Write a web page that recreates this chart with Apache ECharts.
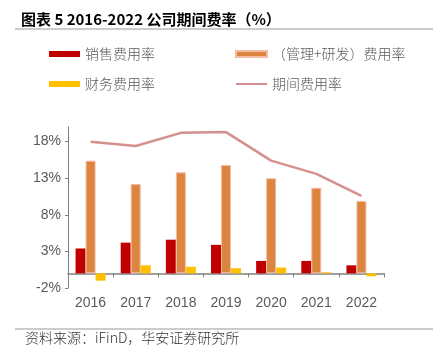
<!DOCTYPE html>
<html>
<head>
    <meta charset="utf-8">
    <title>2016-2022 公司期间费率</title>
    <script src="https://cdn.jsdelivr.net/npm/echarts@6/dist/echarts.min.js"></script>
    <style>
        html, body { margin: 0; padding: 0; background: #fff; }
    </style>
</head>
<body>
    <div id="main" style="width: 433px;height:350px;"></div>
    <script type="text/javascript">
        var years = ['2016', '2017', '2018', '2019', '2020', '2021', '2022'];
        // 各项费用率（%）
        var sales = [3.4, 4.2, 4.6, 3.9, 1.7, 1.7, 1.1];
        var admin = [15.4, 12.2, 13.8, 14.8, 13.0, 11.7, 9.9];
        var finance = [-1.0, 1.1, 0.9, 0.7, 0.8, 0.15, -0.4];
        var total = [18.0, 17.4, 19.2, 19.3, 15.4, 13.6, 10.6];
        var yTicks = [-2, 3, 8, 13, 18];

        var myChart = echarts.init(document.getElementById('main'));
        var cjk = '"Noto Sans CJK SC", sans-serif';
        var latin = '"Liberation Sans", Arial, sans-serif';
        var legendText = { color: '#595959', fontSize: 14, fontWeight: 300, fontFamily: cjk };

        var option = {
            animation: false,
            title: {
                text: '图表 5 2016-2022 公司期间费率（%）',
                left: 16,
                top: 7,
                textStyle: { fontSize: 15, fontWeight: 'bold', color: '#000', fontFamily: cjk }
            },
            graphic: [
                { type: 'line', shape: { x1: 15, y1: 29, x2: 433, y2: 29 }, style: { stroke: '#999', lineWidth: 1 } },
                { type: 'line', shape: { x1: 15, y1: 329, x2: 433, y2: 329 }, style: { stroke: '#999', lineWidth: 1 } },
                { type: 'text', left: 25, top: 331, style: { text: '资料来源：iFinD，华安证券研究所', fill: '#333', font: '300 14px ' + cjk } }
            ],
            legend: [{
                data: [{ name: '销售费用率', icon: 'rect' }, { name: '财务费用率', icon: 'rect' }],
                orient: 'vertical',
                left: 44,
                top: 42,
                itemWidth: 31,
                itemHeight: 6,
                itemGap: 16,
                textStyle: legendText
            }, {
                data: [{ name: '（管理+研发）费用率', icon: 'rect' }, { name: '期间费用率', icon: 'path://M0,0H31V2H0Z' }],
                orient: 'vertical',
                left: 230,
                top: 42,
                itemWidth: 31,
                itemHeight: 6,
                itemGap: 16,
                textStyle: legendText
            }],
            grid: { left: 68, right: 49, top: 127, bottom: 62 },
            xAxis: {
                type: 'category',
                data: years,
                axisLine: { onZero: true, lineStyle: { color: '#808080', width: 1.5 } },
                axisTick: { show: true, length: 4, lineStyle: { color: '#808080' } },
                axisLabel: { color: '#595959', fontSize: 14, fontFamily: latin, margin: 8 }
            },
            yAxis: {
                type: 'value',
                min: -2,
                max: 20,
                interval: 5,
                splitLine: { show: false },
                axisLine: { show: true, lineStyle: { color: '#808080' } },
                axisTick: { show: true, length: 3, lineStyle: { color: '#808080' } },
                axisLabel: {
                    color: '#595959', fontSize: 14, fontFamily: latin, margin: 7,
                    showMaxLabel: false,
                    formatter: function (v) { return yTicks.indexOf(v) >= 0 ? v + '%' : ''; }
                }
            },
            series: [{
                name: '销售费用率',
                type: 'bar',
                data: sales,
                barWidth: 10,
                barGap: '0%',
                itemStyle: { color: '#C00000' }
            }, {
                name: '（管理+研发）费用率',
                type: 'bar',
                data: admin,
                barWidth: 10,
                barGap: '0%',
                itemStyle: { color: '#DC853E', borderColor: '#F4BBA6', borderWidth: 1 }
            }, {
                name: '财务费用率',
                type: 'bar',
                data: finance,
                barWidth: 10,
                barGap: '0%',
                itemStyle: { color: '#FFC000' }
            }, {
                name: '期间费用率',
                type: 'line',
                data: total,
                symbol: 'none',
                itemStyle: { color: '#D4908E' },
                lineStyle: { color: '#D4908E', width: 2.5 }
            }]
        };
        myChart.setOption(option);
    </script>
</body>
</html>
